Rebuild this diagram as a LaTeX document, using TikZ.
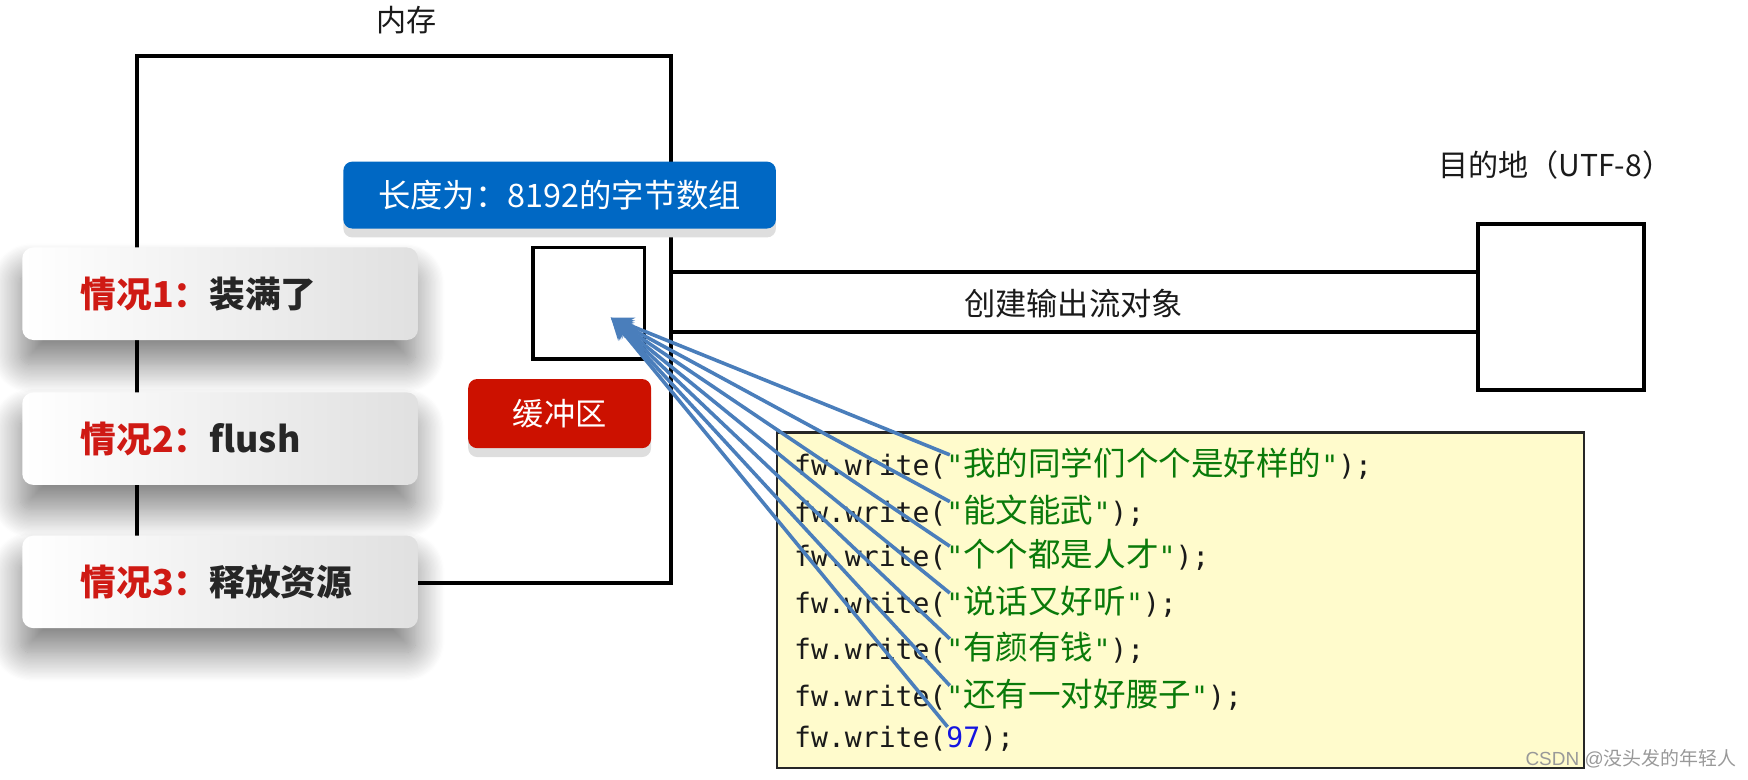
\documentclass[tikz,border=0pt]{standalone}
\usepackage{fontspec}
\setmainfont{Noto Sans CJK SC}
\setmonofont{DejaVu Sans Mono}
\newfontfamily\cjk{Noto Sans CJK SC}
\newfontfamily\latinsans{Liberation Sans}
\usetikzlibrary{arrows.meta,shadows,shadows.blur,calc}
\definecolor{boxblue}{HTML}{0068C4}
\definecolor{boxred}{HTML}{CC1100}
\definecolor{arrblue}{HTML}{4A7EBB}
\definecolor{codebg}{HTML}{FFFBCC}
\definecolor{cgreen}{HTML}{0A7A0A}
\definecolor{cblue}{HTML}{1414E0}
\definecolor{casered}{HTML}{CF1A14}
\definecolor{casedark}{HTML}{262626}
\definecolor{txt}{HTML}{1A1A1A}
\newcommand\cl[1]{{\ttfamily fw.write(}{\color{cgreen}{\ttfamily"}{\cjk\fontsize{14.6}{16}\selectfont #1}{\ttfamily"}}{\ttfamily);}}
\begin{document}
\begin{tikzpicture}[x=0.5pt,y=-0.5pt,
  frame/.style={draw=black, line width=1.6pt, inner sep=0pt, outer sep=0pt},
  chan/.style={draw=black, line width=2pt},
  casebox/.style={rounded corners=5pt, left color=white, right color=black!12,
    minimum width=177.5pt, minimum height=41.5pt, inner sep=0pt,
    blur shadow={shadow xshift=-1pt, shadow yshift=-11pt, shadow blur radius=13pt, shadow blur steps=24, shadow opacity=50}},
  caselabel/.style={font=\fontsize{16}{18}\selectfont\bfseries, anchor=west, text=casedark, inner sep=0pt},
  tag/.style={rounded corners=4pt, text=white, inner sep=0pt,
    drop shadow={shadow xshift=0pt, shadow yshift=-4pt, fill=black!13, opacity=1}},
  lbl/.style={text=txt, inner sep=0pt},
  codeline/.style={anchor=west, inner sep=0pt, text=txt, font=\fontsize{12.6}{15}\selectfont},
  arr/.style={draw=arrblue, line width=1.6pt, -{Stealth[length=10pt,width=8pt]}}
]
\useasboundingbox (0,0) rectangle (1568,699);

% memory box
\node[frame, minimum width=239.5pt, minimum height=236.5pt] (mem) at (362.5,286.5) {};
\node[lbl, font=\fontsize{13.5}{15}\selectfont] (memlbl) at (365,18) {内存};

% blue tag
\node[tag, fill=boxblue, minimum width=194pt, minimum height=30pt, font=\fontsize{14.5}{16}\selectfont] (arrtag) at (502,175) {长度为：8192的字节数组};

% buffer small box
\node[frame, line width=1.5pt, minimum width=50pt, minimum height=50pt] (buf) at (528,272) {};

% red tag
\node[tag, fill=boxred, minimum width=82pt, minimum height=31pt, font=\fontsize{14}{16}\selectfont] (buftag) at (502,371) {缓冲区};

% destination
\node[frame, line width=1.8pt, minimum width=74.5pt, minimum height=74.5pt] (dest) at (1400.5,275.5) {};
\node[lbl, font=\fontsize{13.5}{15}\selectfont] (destlbl) at (1395,148) {目的地（UTF-8）};

% channel
\coordinate (ch1) at (0,244);
\coordinate (ch2) at (0,298);
\draw[chan] (mem.east |- ch1) -- (dest.west |- ch1);
\draw[chan] (mem.east |- ch2) -- (dest.west |- ch2);
\node[lbl, font=\fontsize{14}{16}\selectfont] (chanlbl) at (963,272) {创建输出流对象};

% cases
\node[casebox] (case1) at (197.5,263.5) {};
\node[caselabel] (c1t) at (72,263.5) {\textcolor{casered}{情况1：}装满了};
\node[casebox] (case2) at (197.5,393.5) {};
\node[caselabel] (c2t) at (72,393.5) {\textcolor{casered}{情况2：}flush};
\node[casebox] (case3) at (197.5,522) {};
\node[caselabel] (c3t) at (72,522) {\textcolor{casered}{情况3：}释放资源};

% code box
\node[draw=black!85, line width=1pt, fill=codebg, minimum width=362pt, minimum height=150.5pt, inner sep=0pt] (code) at (1059,538.5) {};
\node[codeline] (l1) at (712,416) {\cl{我的同学们个个是好样的}};
\node[codeline] (l2) at (712,458) {\cl{能文能武}};
\node[codeline] (l3) at (712,498) {\cl{个个都是人才}};
\node[codeline] (l4) at (712,540) {\cl{说话又好听}};
\node[codeline] (l5) at (712,581) {\cl{有颜有钱}};
\node[codeline] (l6) at (712,623) {\cl{还有一对好腰子}};
\node[codeline] (l7) at (712,663) {{\ttfamily fw.write(}{\color{cblue}\ttfamily 97}{\ttfamily);}};

% arrows
\coordinate (tip) at (548,285);
\coordinate (q1) at (852,408);
\coordinate (q2) at (852,450);
\coordinate (q3) at (852,490);
\coordinate (q4) at (852,532);
\coordinate (q5) at (852,573);
\coordinate (q6) at (852,615);
\coordinate (q7) at (850,652);
\foreach \q in {q1,q2,q3,q4,q5,q6,q7} \draw[arr] (\q) -- (tip);

% watermark
\node[anchor=east, inner sep=0pt, text=black!40, font=\fontsize{8.5}{10}\selectfont] (wm) at (1558,681) {{\latinsans CSDN @}{\cjk 没头发的年轻人}};
\end{tikzpicture}
\end{document}
